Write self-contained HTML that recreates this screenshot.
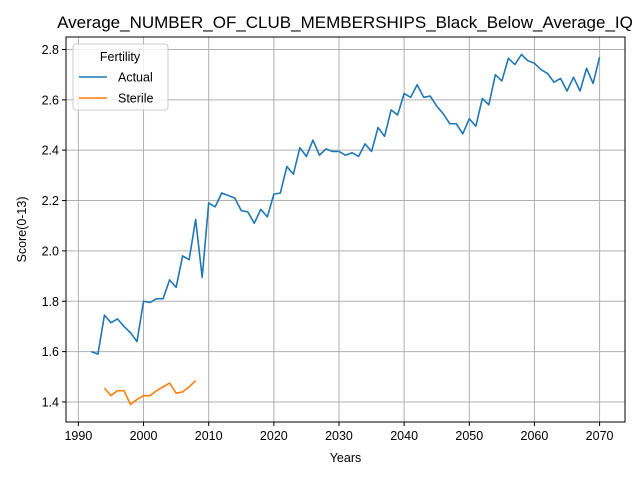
<!DOCTYPE html>
<html><head><meta charset="utf-8"><style>
body{margin:0;background:#fff;}
svg{display:block;font-family:"Liberation Sans","DejaVu Sans",sans-serif;}
</style></head><body>
<svg id="chart" width="640" height="480"></svg>
<script>
const years1 = [];for(let y=1992;y<=2070;y++)years1.push(y);
const actualValues = [1.60,1.59,1.745,1.715,1.73,1.70,1.675,1.64,1.80,1.795,1.81,1.81,1.885,1.855,1.98,1.965,2.125,1.895,2.19,2.175,2.23,2.22,2.21,2.16,2.155,2.11,2.165,2.135,2.225,2.23,2.335,2.305,2.41,2.375,2.44,2.38,2.405,2.395,2.395,2.38,2.39,2.375,2.425,2.395,2.49,2.455,2.56,2.54,2.625,2.61,2.66,2.61,2.615,2.575,2.545,2.505,2.505,2.465,2.525,2.495,2.605,2.58,2.70,2.675,2.765,2.74,2.78,2.755,2.745,2.72,2.705,2.67,2.685,2.635,2.69,2.635,2.725,2.665,2.77];
const years2 = [1994,1995,1996,1997,1998,1999,2000,2001,2002,2003,2004,2005,2006,2007,2008];
const sterileValues = [1.455,1.425,1.445,1.445,1.39,1.41,1.425,1.425,1.445,1.46,1.475,1.435,1.44,1.46,1.485];
const xTicks = [1990,2000,2010,2020,2030,2040,2050,2060,2070];
const yTicks = [1.4,1.6,1.8,2.0,2.2,2.4,2.6,2.8];

const L=66,R=625,T=37,B=422;
const X0=1988.1,X1=2073.9,Y0=1.3205,Y1=2.8495;
const sx=v=>L+(v-X0)/(X1-X0)*(R-L);
const sy=v=>B-(v-Y0)/(Y1-Y0)*(B-T);
const svg=document.getElementById('chart');
const NS='http://www.w3.org/2000/svg';
function mk(tag,attrs,parent){const e=document.createElementNS(NS,tag);for(const k in attrs)e.setAttribute(k,attrs[k]);(parent||svg).appendChild(e);return e;}

let t=mk('text',{x:345,y:28,'text-anchor':'middle','font-size':17,fill:'#000'});
t.textContent='Average_NUMBER_OF_CLUB_MEMBERSHIPS_Black_Below_Average_IQ';



xTicks.forEach(v=>{
  const x=sx(v);
  const g=mk('line',{x1:x,x2:x,y1:T,y2:B,stroke:'#b0b0b0','stroke-width':1});
  
  
  mk('line',{x1:x,x2:x,y1:B,y2:B+4,stroke:'#000'});
  const l=mk('text',{x:x,y:B+18,'text-anchor':'middle','font-size':12.5});
  l.textContent=v;
  
  
});
yTicks.forEach(v=>{
  const y=sy(v);
  const g=mk('line',{x1:L,x2:R,y1:y,y2:y,stroke:'#b0b0b0','stroke-width':1});
  
  
  mk('line',{x1:L-4,x2:L,y1:y,y2:y,stroke:'#000'});
  const l=mk('text',{x:L-7,y:y+4.5,'text-anchor':'end','font-size':12.5});
  l.textContent=v.toFixed(1);
  
  
});
function series(xs,ys,color,name){
  const p=mk('polyline',{points:xs.map((x,i)=>sx(x)+','+sy(ys[i])).join(' '),fill:'none',stroke:color,'stroke-width':1.6,'stroke-linejoin':'round'});
  
  
}
series(years1,actualValues,'#1f77b4','actual-line');
series(years2,sterileValues,'#ff7f0e','sterile-line');

const fr=mk('rect',{x:L,y:T,width:R-L,height:B-T,fill:'none',stroke:'#000','stroke-width':1});



let xl=mk('text',{x:(L+R)/2,y:462,'text-anchor':'middle','font-size':12.5});
xl.textContent='Years';


let yl=mk('text',{x:0,y:0,'text-anchor':'middle','font-size':12.5,transform:'translate(26,'+((T+B)/2)+') rotate(-90)'});
yl.textContent='Score(0-13)';



const lg=mk('g',{});


mk('rect',{x:73,y:44,width:95,height:66,rx:3,fill:'#fff','fill-opacity':0.8,stroke:'#ccc'},lg);
let lt=mk('text',{x:120,y:61,'text-anchor':'middle','font-size':12.5},lg);lt.textContent='Fertility';
[['Actual','#1f77b4',77],['Sterile','#ff7f0e',98]].forEach(([n,c,y])=>{
  const e=mk('g',{},lg);
  
  
  mk('line',{x1:79,x2:107,y1:y,y2:y,stroke:c,'stroke-width':1.6},e);
  const tx=mk('text',{x:118,y:y+4.5,'font-size':12.5},e);tx.textContent=n;
});
</script>
</body></html>
